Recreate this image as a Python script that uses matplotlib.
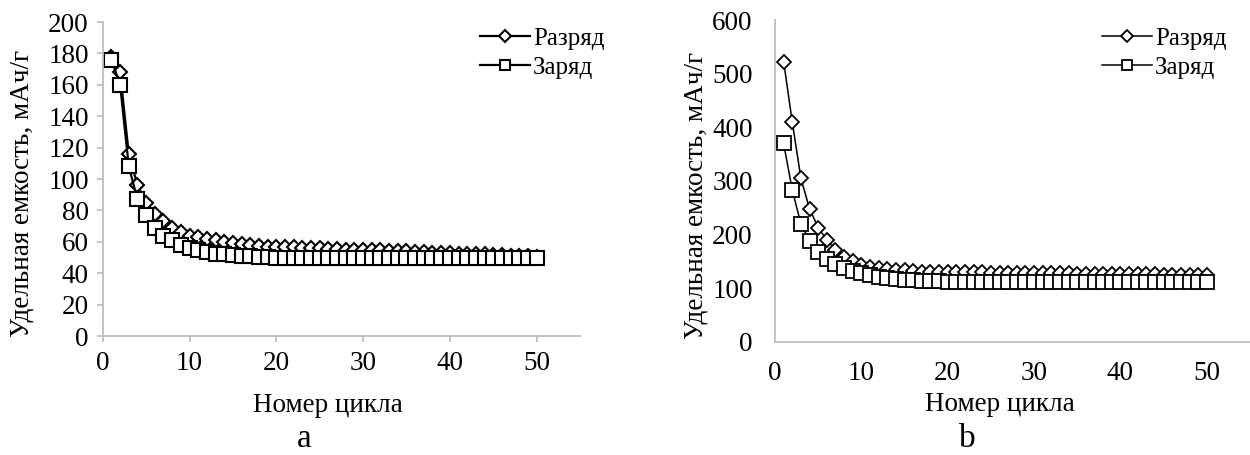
import numpy as np
import matplotlib
matplotlib.use("Agg")
import matplotlib.pyplot as plt

plt.rcParams['font.family'] = ['Liberation Serif', 'DejaVu Serif']

# номер цикла
cycles = np.arange(1, 51)

# (a) удельная емкость, мАч/г
razryad_a = [178, 168, 116, 96, 85, 78, 73, 69, 66, 64,
             63, 62, 61, 60, 59, 58.5, 58, 57.5, 57, 57,
             56.5, 56.5, 56, 56, 56, 55.5, 55.5, 55, 55, 55,
             54.5, 54.5, 54, 54, 54, 53.5, 53.5, 53, 53, 53,
             52.5, 52.5, 52, 52, 51.5, 51.5, 51, 51, 51, 50.5]
zaryad_a = [176, 160, 108, 87, 77, 69, 64, 61, 58, 56,
            54.5, 53.5, 52.5, 52, 51.5, 51, 51, 50.5, 50.5, 50,
            50, 50, 50, 49.5, 49.5, 49.5, 49.5, 49.5, 49.5, 49.5,
            49.5, 49.5, 49.5, 49.5, 49.5, 49.5, 49.5, 49.5, 49.5, 49.5,
            49.5, 49.5, 49.5, 49.5, 49.5, 49.5, 49.5, 49.5, 49.5, 49.5]

# (b) удельная емкость, мАч/г
razryad_b = [523, 410, 305, 248, 213, 190, 172, 159, 150, 144,
             140, 137, 135, 134, 133, 132, 131, 131, 130, 130,
             130, 130, 129.5, 129.5, 129, 129, 129, 128.5, 128.5, 128,
             128, 128, 127.5, 127.5, 127, 127, 127, 126.5, 126.5, 126,
             126, 126, 125.5, 125.5, 125, 125, 125, 124.5, 124.5, 124]
zaryad_b = [370, 283, 220, 188, 168, 155, 145, 138, 132, 128,
            124, 121, 119, 117, 116, 115, 114, 113, 113, 112,
            112, 112, 111.5, 111.5, 111, 111, 111, 111, 111, 111,
            111, 111, 111, 111, 111, 111, 111, 111, 111, 111,
            111, 111, 111, 111, 111, 111, 111, 111, 111, 111]

ylabel = 'Удельная емкость, мАч/г'
xlabel = 'Номер цикла'
gray = '#bfbfbf'
fs = 19.5

fig = plt.figure(figsize=(12.5, 4.55), dpi=100)

# --- (a)
ax1 = fig.add_axes([0.0822, 0.2615, 0.3818, 0.6901])
ax1.plot(cycles, razryad_a, color='black', lw=1.6, marker='D', ms=7.5,
         mfc='white', mec='black', mew=1.5, label='Разряд')
ax1.plot(cycles, zaryad_a, color='black', lw=1.6, marker='s', ms=10,
         mfc='white', mec='black', mew=1.5, label='Заряд')
ax1.set_xlim(0, 55)
ax1.set_ylim(0, 200)
ax1.set_xticks(range(0, 51, 10))
ax1.set_yticks(range(0, 201, 20))
ax1.tick_params(axis='both', labelsize=fs, color=gray, length=4, width=1.3)
ax1.tick_params(axis='x', pad=7)
ax1.tick_params(axis='y', pad=6)
ax1.set_ylabel(ylabel, fontsize=fs)
ax1.yaxis.set_label_coords(-0.144, 0.454)
ax1.set_xlabel(xlabel, fontsize=fs)
ax1.xaxis.set_label_coords(0.472, -0.182)
ax1.legend(loc='upper left', bbox_to_anchor=(0.384, 0.94),
           bbox_transform=fig.transFigure, frameon=False, fontsize=18,
           handlelength=2.0, handletextpad=0.12, labelspacing=0.25,
           borderaxespad=0, borderpad=0, markerscale=0.75)

# --- (b)
ax2 = fig.add_axes([0.62, 0.249, 0.38, 0.7065])
ax2.plot(cycles, razryad_b, color='black', lw=1.1, marker='D', ms=7.5,
         mfc='white', mec='black', mew=1.3, label='Разряд')
ax2.plot(cycles, zaryad_b, color='black', lw=1.1, marker='s', ms=10,
         mfc='white', mec='black', mew=1.3, label='Заряд')
ax2.set_xlim(0, 55)
ax2.set_ylim(0, 600)
ax2.set_xticks(range(0, 51, 10))
ax2.set_yticks(range(0, 601, 100))
ax2.tick_params(axis='both', labelsize=fs, length=0)
ax2.tick_params(axis='x', pad=14)
ax2.tick_params(axis='y', pad=16)
ax2.set_ylabel(ylabel, fontsize=fs)
ax2.yaxis.set_label_coords(-0.141, 0.456)
ax2.set_xlabel(xlabel, fontsize=fs)
ax2.xaxis.set_label_coords(0.4737, -0.155)
ax2.legend(loc='upper left', bbox_to_anchor=(0.8816, 0.94),
           bbox_transform=fig.transFigure, frameon=False, fontsize=18,
           handlelength=2.0, handletextpad=0.12, labelspacing=0.25,
           borderaxespad=0, borderpad=0, markerscale=0.75)

for ax in (ax1, ax2):
    for s in ('top', 'right'):
        ax.spines[s].set_visible(False)
    for s in ('left', 'bottom'):
        ax.spines[s].set_color(gray)
        ax.spines[s].set_linewidth(1.3)

fig.text(0.2435, 0.018, 'а', fontsize=24, ha='center')
fig.text(0.7735, 0.018, 'b', fontsize=24, ha='center')

fig.savefig('out.png', dpi=100)
